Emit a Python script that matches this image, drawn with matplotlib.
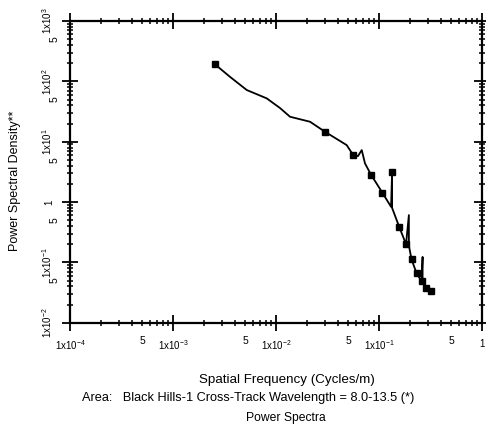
import matplotlib
matplotlib.use("Agg")
import matplotlib.pyplot as plt
from matplotlib.ticker import FixedLocator, FixedFormatter
import numpy as np

plt.rcParams['font.family'] = ['Liberation Sans', 'DejaVu Sans']
plt.rcParams['mathtext.fontset'] = 'custom'
plt.rcParams['mathtext.rm'] = 'Liberation Sans'
plt.rcParams['mathtext.it'] = 'Liberation Sans'
plt.rcParams['mathtext.bf'] = 'Liberation Sans:bold'

# Data
freq = [0.00256, 0.00357, 0.0052, 0.00813, 0.01094, 0.01368, 0.0214, 0.0299,
        0.0485, 0.0562, 0.0625, 0.068, 0.0731, 0.0836, 0.108, 0.131, 0.134,
        0.134, 0.157, 0.183, 0.195, 0.195, 0.207, 0.232, 0.259, 0.265, 0.265,
        0.286, 0.318]
psd = [191, 119, 71.8, 52.2, 36.1, 25.9, 21.4, 14.6, 8.79, 6.0, 5.77, 7.26,
       4.37, 2.84, 1.42, 0.832, 3.17, 0.80, 0.388, 0.200, 0.607, 0.19, 0.112,
       0.0655, 0.0488, 0.123, 0.047, 0.0369, 0.0333]
marker_idx = [0, 7, 9, 13, 14, 16, 18, 19, 22, 23, 24, 27, 28]

x_major = [1e-4, 1e-3, 1e-2, 1e-1, 1]
x_major_labels = ["1x10$^{\\mathrm{-4}}$", "1x10$^{\\mathrm{-3}}$", "1x10$^{\\mathrm{-2}}$",
                  "1x10$^{\\mathrm{-1}}$", "1"]
y_major = [1e-2, 1e-1, 1, 1e1, 1e2, 1e3]
y_major_labels = ["1x10$^{\\mathrm{-2}}$", "1x10$^{\\mathrm{-1}}$", "1",
                  "1x10$^{\\mathrm{1}}$", "1x10$^{\\mathrm{2}}$", "1x10$^{\\mathrm{3}}$"]

fig = plt.figure(figsize=(4.86, 4.30), dpi=100)
ax = fig.add_axes([70/486, 1-322.7/430, (482-70)/486, (322.7-21)/430])

ax.plot(freq, psd, color='black', lw=1.3, marker='s', markersize=3.8,
        markevery=marker_idx, markerfacecolor='black', markeredgecolor='black')

ax.set_xscale('log')
ax.set_yscale('log')
ax.set_xlim(1e-4, 1)
ax.set_ylim(1e-2, 1e3)

def minors(lo, hi):
    out = []
    for e in range(lo, hi):
        for m in range(2, 10):
            out.append(m * 10.0**e)
    return out

def five_labels(vals):
    return ["5" if abs(v / 10**np.floor(np.log10(v)) - 5) < 1e-6 else "" for v in vals]

xmin = minors(-4, 0)
ymin = minors(-2, 3)

ax.xaxis.set_major_locator(FixedLocator(x_major))
ax.xaxis.set_major_formatter(FixedFormatter(x_major_labels))
ax.xaxis.set_minor_locator(FixedLocator(xmin))
ax.xaxis.set_minor_formatter(FixedFormatter(five_labels(xmin)))
ax.yaxis.set_major_locator(FixedLocator(y_major))
ax.yaxis.set_major_formatter(FixedFormatter(y_major_labels))
ax.yaxis.set_minor_locator(FixedLocator(ymin))
ax.yaxis.set_minor_formatter(FixedFormatter(five_labels(ymin)))

for s in ax.spines.values():
    s.set_linewidth(1.6)

ax.tick_params(which='major', direction='inout', length=11, width=1.3,
               top=True, right=True, labelsize=7)
ax.tick_params(which='minor', direction='inout', length=4.5, width=1.1,
               top=True, right=True, labelsize=7.5)
ax.tick_params(axis='x', which='major', pad=6)
ax.tick_params(axis='x', which='minor', pad=7)
ax.tick_params(axis='y', which='major', pad=6)
ax.tick_params(axis='y', which='minor', pad=5)
for lab in ax.get_yticklabels(which='both'):
    lab.set_rotation(90)
    lab.set_va('center')

fig.text(15/486, 1-181/430, "Power Spectral Density**", rotation=90,
         ha='center', va='center', fontsize=9)
fig.text(287/486, 1-380/430, "Spatial Frequency (Cycles/m)",
         ha='center', va='center', fontsize=9.6)
fig.text(248/486, 1-398/430,
         "Area:   Black Hills-1 Cross-Track Wavelength = 8.0-13.5 (*)",
         ha='center', va='center', fontsize=9.2)
fig.text(286/486, 1-418/430, "Power Spectra",
         ha='center', va='center', fontsize=8.7)

fig.savefig("out.png", dpi=100)
